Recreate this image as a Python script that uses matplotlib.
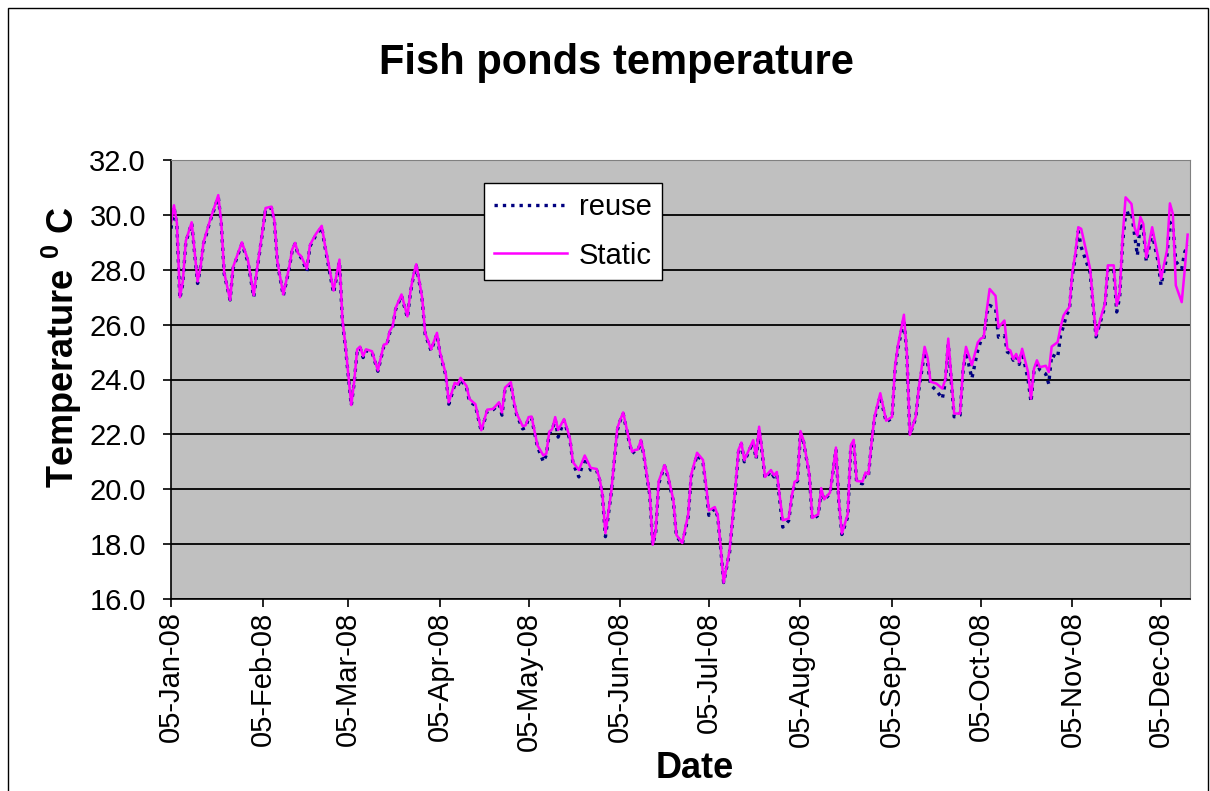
import matplotlib
matplotlib.use('Agg')
import matplotlib.pyplot as plt
import matplotlib.dates as mdates
from matplotlib.patches import Rectangle
import pandas as pd

plt.rcParams['font.family'] = ['Liberation Sans', 'DejaVu Sans']
plt.rcParams['mathtext.fontset'] = 'custom'
plt.rcParams['mathtext.rm'] = 'Liberation Sans'
plt.rcParams['mathtext.bf'] = 'Liberation Sans:bold'

# days counted from 05-Jan-2008
start = '2008-01-05'
day = [0, 1, 2, 3, 4, 5, 7, 9, 10, 11, 12, 13, 16, 17, 18, 20, 21, 24, 26, 28,
       29, 31, 32, 34, 35, 36, 38, 40, 41, 42, 43, 44, 46, 47, 49, 51, 52, 53, 55, 57,
       58, 59, 61, 62, 63, 64, 65, 66, 68, 70, 72, 73, 74, 75, 76, 78, 80, 81, 82, 83,
       84, 85, 86, 88, 90, 91, 93, 94, 96, 97, 98, 100, 101, 103, 105, 107, 109, 111, 112, 113,
       115, 116, 117, 119, 120, 121, 122, 124, 126, 127, 128, 129, 130, 131, 133, 134, 135, 136, 138, 140,
       142, 144, 145, 146, 147, 149, 151, 152, 153, 155, 156, 157, 158, 159, 160, 161, 162, 163, 164, 165,
       167, 168, 170, 171, 173, 174, 175, 176, 178, 180, 181, 182, 184, 185, 186, 187, 189, 191, 192, 193,
       194, 196, 197, 198, 199, 200, 201, 203, 204, 205, 206, 207, 209, 210, 211, 212, 213, 214, 216, 217,
       219, 220, 221, 223, 225, 226, 227, 229, 230, 231, 232, 234, 235, 236, 237, 238, 240, 242, 244, 245,
       246, 248, 249, 250, 252, 253, 255, 256, 257, 259, 261, 262, 263, 265, 267, 268, 269, 271, 273, 274,
       275, 276, 277, 279, 280, 282, 283, 284, 285, 286, 287, 288, 290, 291, 292, 293, 294, 296, 297, 298,
       300, 301, 302, 303, 304, 305, 306, 307, 308, 311, 313, 315, 316, 317, 319, 320, 321, 322, 323, 325,
       326, 327, 328, 329, 330, 332, 333, 334, 335, 337, 338, 339, 340, 342, 343, 344]

static = [29.7, 30.35, 29.7, 27.0, 27.57, 29.05, 29.73, 27.57, 28.1, 29.0, 29.36, 29.73, 30.72, 29.73, 27.9, 26.9, 28.1, 29.0, 28.37, 27.07,
          27.94, 29.45, 30.25, 30.3, 29.8, 28.3, 27.1, 28.1, 28.74, 28.98, 28.6, 28.5, 28.04, 28.9, 29.3, 29.6, 28.96, 28.4, 27.24, 28.37,
          26.2, 25.28, 23.07, 23.94, 25.1, 25.2, 24.85, 25.1, 25.03, 24.33, 25.27, 25.3, 25.76, 25.94, 26.6, 27.1, 26.3, 27.2, 27.8, 28.2,
          27.6, 26.97, 25.7, 25.1, 25.7, 25.0, 24.2, 23.17, 23.88, 23.82, 24.06, 23.76, 23.29, 23.1, 22.15, 22.9, 22.93, 23.17, 22.8, 23.7,
          23.9, 23.23, 22.75, 22.3, 22.33, 22.63, 22.65, 21.6, 21.23, 21.3, 22.1, 22.19, 22.63, 22.16, 22.56, 22.22, 21.85, 20.99, 20.7, 21.23,
          20.78, 20.74, 20.4, 19.8, 18.4, 19.94, 22.22, 22.53, 22.8, 21.8, 21.37, 21.43, 21.45, 21.8, 21.3, 20.52, 19.85, 17.98, 18.46, 20.28,
          20.88, 20.58, 19.6, 18.34, 18.04, 18.58, 19.07, 20.52, 21.33, 21.07, 20.2, 19.23, 19.35, 19.05, 17.89, 16.6, 17.77, 20.09, 21.43, 21.7,
          21.06, 21.55, 21.79, 21.18, 22.28, 21.43, 20.45, 20.7, 20.51, 20.63, 19.72, 18.87, 18.93, 19.72, 20.27, 20.33, 22.12, 21.79, 20.55, 18.96,
          19.09, 20.04, 19.63, 19.88, 21.52, 19.57, 18.39, 19.09, 21.59, 21.8, 20.3, 20.28, 20.61, 20.55, 21.65, 22.62, 23.5, 22.5, 22.64, 24.5,
          25.25, 26.36, 24.95, 21.98, 22.64, 23.67, 25.19, 24.8, 23.92, 23.85, 23.67, 24.0, 25.49, 22.76, 22.76, 24.4, 25.19, 24.52, 25.35, 25.49,
          25.54, 26.5, 27.3, 27.05, 25.9, 26.15, 25.12, 25.06, 24.75, 24.93, 24.63, 25.12, 24.27, 23.3, 24.39, 24.7, 24.45, 24.5, 24.27, 25.2,
          25.36, 25.9, 26.33, 26.5, 26.64, 27.92, 28.58, 29.55, 29.49, 28.04, 25.61, 26.4, 26.76, 28.16, 28.16, 26.7, 27.13, 29.19, 30.64, 30.4,
          29.55, 29.25, 29.92, 29.67, 28.44, 29.55, 29.0, 28.46, 27.67, 28.7, 30.42, 30.04, 27.43, 26.82, 27.98, 29.28]

reuse = [29.5, 30.3, 29.6, 26.95, 27.5, 29.0, 29.7, 27.5, 28.1, 28.95, 29.3, 29.7, 30.65, 29.7, 27.85, 26.9, 28.05, 28.95, 28.3, 27.0,
         27.9, 29.4, 30.2, 30.25, 29.75, 28.25, 27.05, 28.05, 28.7, 28.95, 28.55, 28.45, 27.95, 28.85, 29.25, 29.55, 28.9, 28.3, 27.15, 28.3,
         26.1, 25.2, 23.05, 23.9, 25.05, 25.15, 24.8, 25.05, 25.0, 24.3, 25.2, 25.25, 25.7, 25.9, 26.55, 27.05, 26.25, 27.15, 27.75, 28.15,
         27.55, 26.9, 25.65, 25.05, 25.65, 24.95, 24.15, 23.1, 23.8, 23.75, 24.0, 23.7, 23.2, 23.05, 22.1, 22.85, 22.9, 23.1, 22.7, 23.65,
         23.85, 23.15, 22.7, 22.2, 22.25, 22.6, 22.6, 21.55, 21.0, 21.25, 22.05, 22.15, 22.55, 21.9, 22.5, 22.15, 21.8, 20.95, 20.45, 21.15,
         20.7, 20.7, 20.35, 19.75, 18.27, 19.9, 22.15, 22.5, 22.75, 21.75, 21.3, 21.4, 21.4, 21.75, 21.25, 20.45, 19.8, 17.98, 18.4, 20.2,
         20.85, 20.5, 19.55, 18.3, 18.0, 18.5, 19.0, 20.45, 21.25, 21.0, 20.1, 19.05, 19.3, 19.0, 17.85, 16.6, 17.7, 20.0, 21.35, 21.65,
         21.0, 21.5, 21.7, 21.1, 22.2, 21.35, 20.4, 20.65, 20.45, 20.55, 19.6, 18.62, 18.85, 19.65, 20.2, 20.3, 22.05, 21.75, 20.5, 18.9,
         19.05, 19.95, 19.6, 19.85, 21.45, 19.5, 18.35, 19.0, 21.5, 21.75, 20.25, 20.2, 20.55, 20.5, 21.6, 22.55, 23.4, 22.45, 22.6, 24.4,
         25.15, 26.2, 24.9, 21.98, 22.6, 23.6, 25.0, 24.6, 23.8, 23.6, 23.3, 23.9, 25.3, 22.64, 22.7, 24.3, 25.0, 24.04, 25.07, 25.4,
         25.45, 26.4, 26.7, 26.6, 25.54, 25.6, 25.0, 24.95, 24.7, 24.85, 24.55, 25.0, 24.0, 23.18, 24.3, 24.6, 24.35, 24.2, 23.84, 24.9,
         24.8, 25.6, 25.95, 26.35, 26.55, 27.8, 28.45, 29.4, 28.82, 27.9, 25.55, 26.3, 26.65, 28.0, 28.0, 26.46, 27.0, 29.0, 30.04, 30.1,
         29.3, 28.52, 29.7, 29.5, 28.3, 29.35, 28.8, 28.3, 27.43, 28.5, 29.73, 29.6, 28.3, 28.04, 28.64, 28.9]

y_ticks = [16, 18, 20, 22, 24, 26, 28, 30, 32]

dates = pd.Timestamp(start) + pd.to_timedelta(day, unit='D')

fig = plt.figure(figsize=(12.1, 7.91), dpi=100)
ax = fig.add_axes([171 / 1210, 1 - 599 / 791, (1190 - 171) / 1210, (599 - 160) / 791])
ax.set_facecolor('#C0C0C0')

ax.plot(dates, reuse, color='#000080', linestyle=(0, (1, 1.5)), lw=2.4, label='reuse')
ax.plot(dates, static, color='#FF00FF', lw=1.8, label='Static')

ax.set_ylim(16, 32)
ax.set_yticks(y_ticks)
ax.yaxis.set_major_formatter(plt.FormatStrFormatter('%.1f'))
ax.set_xlim(pd.Timestamp(start), pd.Timestamp(start) + pd.Timedelta(days=344.8))
ax.xaxis.set_major_locator(mdates.MonthLocator(bymonthday=5))
ax.xaxis.set_major_formatter(mdates.DateFormatter('%d-%b-%y'))
ax.grid(axis='y', color='black', lw=1.3)
ax.set_axisbelow(True)
ax.tick_params(axis='both', direction='out', length=6, width=1.2, labelsize=21, color='black')
ax.tick_params(axis='y', pad=12)
ax.tick_params(axis='x', labelrotation=90, pad=3)
for s in ['top', 'right']:
    ax.spines[s].set_color('#808080')
for s in ['left', 'bottom']:
    ax.spines[s].set_color('black')
    ax.spines[s].set_linewidth(1.2)

leg = ax.legend(loc='upper left', bbox_to_anchor=(313 / 1019, 416 / 439), fontsize=21,
                frameon=True, fancybox=False, edgecolor='black', framealpha=1,
                handlelength=2.5, borderpad=0.35, labelspacing=0.7, handletextpad=0.4,
                borderaxespad=0)
leg.get_frame().set_linewidth(1)

fig.text(616 / 1210, 1 - 63 / 791, 'Fish ponds temperature', fontsize=30, fontweight='bold',
         ha='center', va='center')
fig.text(695 / 1210, 1 - 768 / 791, 'Date', fontsize=26, fontweight='bold', ha='center', va='center')
fig.text(62 / 1210, 1 - 347 / 791, r'Temperature $^{\mathbf{0}}$ C', fontsize=26, fontweight='bold',
         rotation=90, ha='center', va='center')

fig.patches.append(Rectangle((8 / 1210, -0.05), 1200 / 1210, 1 - 8 / 791 + 0.05, transform=fig.transFigure,
                             fill=False, edgecolor='black', lw=1))

fig.savefig('out.png', dpi=100, facecolor='white')
